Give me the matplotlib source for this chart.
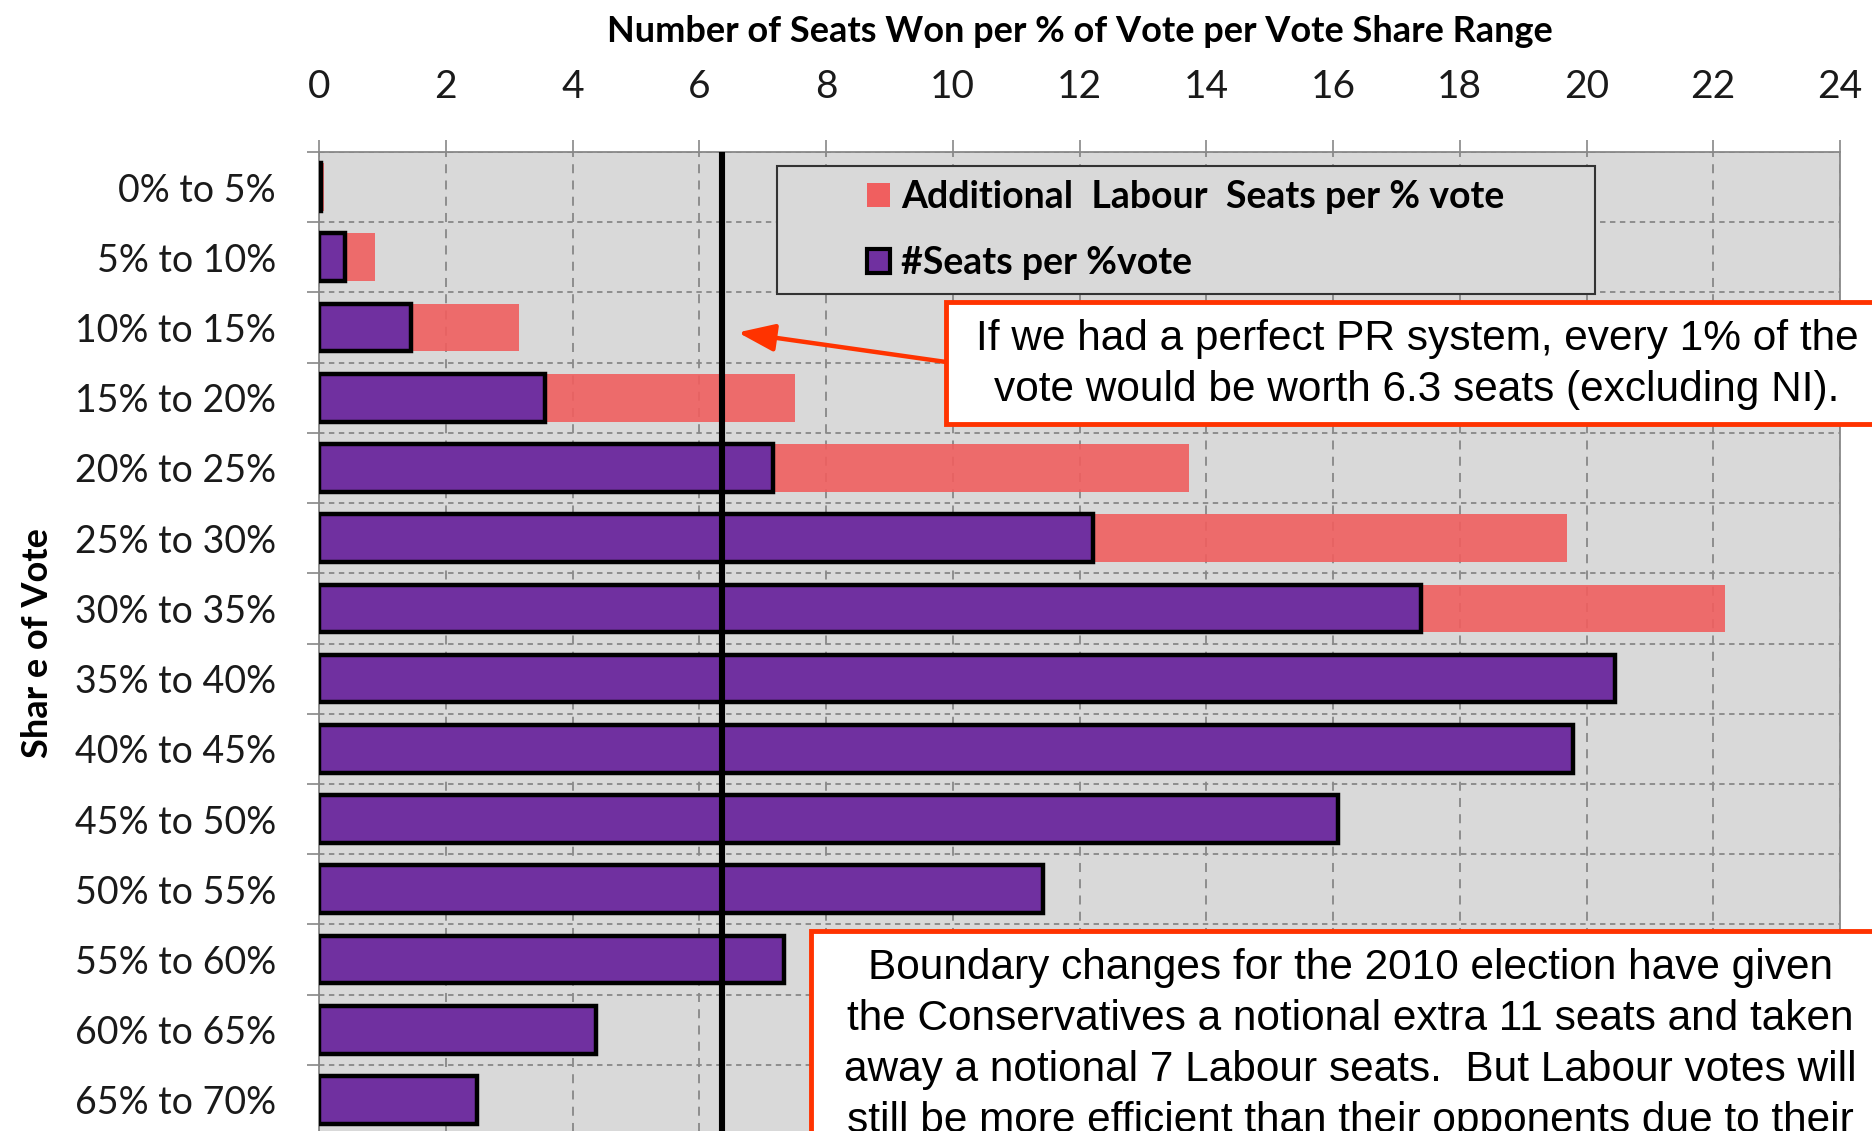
import matplotlib.pyplot as plt
from matplotlib.patches import Patch, Rectangle
import numpy as np

# data
categories = ["0% to 5%", "5% to 10%", "10% to 15%", "15% to 20%", "20% to 25%",
              "25% to 30%", "30% to 35%", "35% to 40%", "40% to 45%", "45% to 50%",
              "50% to 55%", "55% to 60%", "60% to 65%", "65% to 70%"]
seats_per_vote = [0.03, 0.41, 1.45, 3.57, 7.17, 12.21, 17.39, 20.45, 19.79, 16.08,
                  11.42, 7.33, 4.37, 2.49]
additional_labour = [0.05, 0.48, 1.70, 3.94, 6.55, 7.48, 4.79]
pr_level = 6.36
xticks = list(range(0, 25, 2))

note_pr = ["If we had a perfect PR system, every 1% of the",
           "vote would be worth 6.3 seats (excluding NI)."]
note_boundary = ["Boundary changes for the 2010 election have given",
                 "the Conservatives a notional extra 11 seats and taken",
                 "away a notional 7 Labour seats.  But Labour votes will",
                 "still be more efficient than their opponents due to their"]

PURPLE = "#7030A0"
PINK = "#F05F5F"
RED = "#FF3300"
GREY = "#888888"
CAL = ["Lato", "DejaVu Sans"]
ARIAL = ["Liberation Sans", "DejaVu Sans"]

W, H = 1872, 1131
fig = plt.figure(figsize=(W / 100, H / 100), dpi=100)
ax = fig.add_axes([319 / W, -4 / H, 1521 / W, 983 / H])
ax.set_facecolor("#D9D9D9")

y = np.arange(len(categories))
n_add = len(additional_labour)
ax.barh(y[:n_add], additional_labour, left=seats_per_vote[:n_add], height=0.68,
        color=PINK, alpha=0.9, zorder=2)
ax.barh(y, seats_per_vote, height=0.68, color=PURPLE, edgecolor="black",
        linewidth=3.2, zorder=3)
ax.axvline(pr_level, color="black", lw=4.4, zorder=4)

ax.set_xlim(0, 24)
ax.set_ylim(len(categories) - 0.5, -0.5)

# x axis on top
ax.xaxis.tick_top()
ax.set_xticks(xticks)
ax.tick_params(axis="x", length=8.6, width=1.2, color=GREY, pad=25,
               labelsize=28, labelcolor="#1a1a1a")
for lab in ax.get_xticklabels():
    lab.set_family(CAL)
ax.xaxis.set_label_position("top")
ax.set_xlabel("Number of Seats Won per % of Vote per Vote Share Range",
              family=CAL, fontsize=26, fontweight="bold", labelpad=20)

# y axis: ticks at boundaries, labels at centres
ax.set_yticks(np.arange(-0.5, len(categories), 1))
ax.set_yticklabels([])
ax.set_yticks(y, minor=True)
ax.set_yticklabels(categories, minor=True, family=CAL, fontsize=27, color="#1a1a1a")
ax.tick_params(axis="y", which="major", length=9, width=1.2, color=GREY)
ax.tick_params(axis="y", which="minor", length=0, pad=31)
ax.set_ylabel("Shar e of Vote", family=CAL, fontsize=26, fontweight="bold", labelpad=15)

ax.set_axisbelow(True)
ax.grid(axis="x", which="major", linestyle=(0, (5, 4)), color=GREY, lw=1.3)
ax.grid(axis="y", which="major", linestyle=(0, (3, 2.5)), color=GREY, lw=1.3)
for side in ["left", "top", "right"]:
    ax.spines[side].set_color(GREY)
    ax.spines[side].set_linewidth(1.3)
ax.spines["bottom"].set_visible(False)

# legend with its own box
ax.add_patch(Rectangle((0.301, 0.8555), 0.538, 0.1303, transform=ax.transAxes,
                       facecolor="#D9D9D9", edgecolor="#333333", lw=1.5, zorder=5))
handles = [Patch(facecolor=PINK, edgecolor="none",
                 label="Additional  Labour  Seats per % vote"),
           Patch(facecolor=PURPLE, edgecolor="black", lw=3.0, label="#Seats per %vote")]
leg = ax.legend(handles=handles, loc="center", bbox_to_anchor=(0.570, 0.9206),
                frameon=False, prop={"family": CAL, "size": 27, "weight": "bold"},
                handlelength=0.6, handleheight=0.6, handletextpad=0.3,
                labelspacing=0.85, borderpad=0)
leg.set_zorder(6)

# note boxes
fig.add_artist(Rectangle((946 / W, 1 - 424 / H), 0.53, 122 / H, transform=fig.transFigure,
                         facecolor="white", edgecolor=RED, lw=3.5, zorder=7))
for i, line in enumerate(note_pr):
    fig.text(1417 / W, 1 - (339 + 51 * i) / H, line, ha="center", va="center",
             family=ARIAL, fontsize=30.5, zorder=8)
ax.annotate("", xy=(6.61, 2.07), xycoords="data",
            xytext=(946 / W, 1 - 362 / H), textcoords="figure fraction",
            arrowprops=dict(arrowstyle="-|>,head_length=0.8,head_width=0.3",
                            color=RED, lw=3.2, mutation_scale=28, shrinkA=0, shrinkB=0),
            zorder=8, annotation_clip=False)

fig.add_artist(Rectangle((811 / W, -0.05), 0.6, 0.05 + 1 - 931 / H,
                         transform=fig.transFigure,
                         facecolor="white", edgecolor=RED, lw=3.5, zorder=7))
for i, line in enumerate(note_boundary):
    fig.text(1350 / W, 1 - (968 + 51 * i) / H, line, ha="center", va="center",
             family=ARIAL, fontsize=30.5, zorder=8)

fig.savefig("out.png", dpi=100)
